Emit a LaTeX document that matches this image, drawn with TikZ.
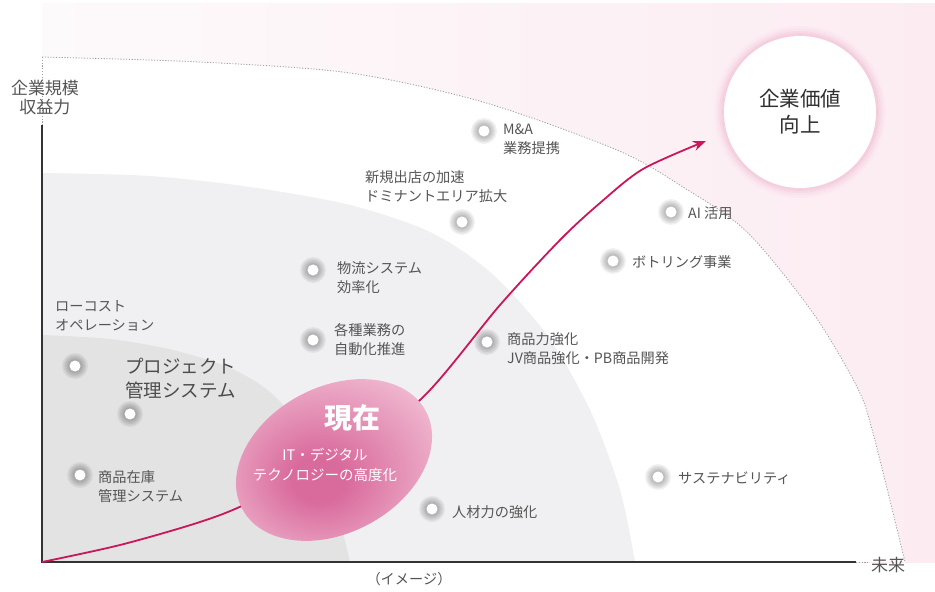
\documentclass[tikz,border=0pt]{standalone}
\usepackage{fontspec}
\setmainfont{Noto Sans CJK JP}
\usetikzlibrary{arrows.meta}
\definecolor{txt}{HTML}{555555}
\definecolor{axis}{HTML}{333333}
\definecolor{crim}{HTML}{C8175A}
\definecolor{pinkL}{HTML}{FDFAFB}
\definecolor{pinkR}{HTML}{FCECF2}
\definecolor{midgray}{HTML}{F0F0F2}
\definecolor{ingray}{HTML}{E3E3E4}
\definecolor{halo}{HTML}{F2B8CE}
\definecolor{pkC}{HTML}{D96A9C}
\definecolor{pkE}{HTML}{F5CADC}
\pgfdeclareradialshading{pinkell}{\pgfpoint{-4bp}{-6bp}}{color(0bp)=(pkC); color(6bp)=(pkC); color(34bp)=(pkE); color(50bp)=(pkE)}
\begin{document}
\begin{tikzpicture}[x=1pt,y=-1pt,
  lbl/.style={text=txt, font=\fontsize{14.2}{19}\selectfont, align=left, anchor=west, inner sep=0pt},
  biglbl/.style={text=txt!90!black, font=\fontsize{18.5}{24.5}\selectfont, align=left, anchor=west, inner sep=0pt},
  axlbl/.style={text=txt, font=\fontsize{17}{19.5}\selectfont, align=center, inner sep=0pt},
  dotnode/.style={circle, fill=white, minimum size=11pt, inner sep=0pt},
  arcline/.style={gray!75, line width=0.8pt, dash pattern=on 1.2pt off 1.6pt},
  axisline/.style={axis, line width=2pt}]
\useasboundingbox (0,0) rectangle (935,592);
% outer pale pink area
\shade[left color=pinkL, right color=pinkR] (42,3) rectangle (935,562);
% white area inside the dotted arc
\fill[white] (42,562) -- plot[smooth] coordinates {(42,57) (200,62) (350,73) (483,102) (617,150) (683,187) (747,232) (813,313) (857,387) (873,433) (905,562)} -- cycle;
% middle gray region
\fill[midgray] (42,562) -- plot[smooth] coordinates {(42,173) (150,176) (250,187) (350,205) (430,232) (490,272) (547,335) (590,410) (620,490) (635,562)} -- cycle;
% inner gray region
\fill[ingray] (42,562) -- plot[smooth] coordinates {(42,335) (110,339) (173,350) (230,368) (270,392) (303,430) (330,485) (350,562)} -- cycle;
% dotted arc
\draw[arcline] plot[smooth] coordinates {(42,57) (200,62) (350,73) (483,102) (617,150) (683,187) (747,232) (813,313) (857,387) (873,433) (905,562)};
% axes
\coordinate (top) at (42,57);
\coordinate (ytip) at (42,125);
\coordinate (o) at (42,562);
\coordinate (xend) at (856,562);
\coordinate (xdot) at (869,562);
\draw[arcline] (top) -- (ytip);
\draw[axisline] (ytip) -- (o) -- (xend);
\draw[arcline] (xend) -- (xdot);
\node[axlbl] (ylab) at (45,97.5) {企業規模\\収益力};
\node[axlbl] (xlab) at (888,565) {未来};
\node[axlbl, font=\fontsize{14.2}{17}\selectfont] (img) at (409,579) {（イメージ）};
% goal circle
\foreach \r/\o in {86/0.08, 83.5/0.13, 81/0.2, 78.8/0.3}{\fill[halo, opacity=\o] (800,112) circle (\r pt);}
\node[circle, fill=white, minimum size=152pt, inner sep=0pt] (goal) at (800,112) {};
\node[text=black!82, font=\fontsize{20.5}{26}\selectfont, align=center, inner sep=0pt] (goaltxt) at (goal) {企業価値\\向上};
% growth curve
\draw[crim, line width=1.8pt, -{Stealth[length=13pt, width=10pt]}] plot[smooth] coordinates {(42,562) (120,545) (200,522) (250,502) (335,455) (420,400) (500,305) (560,240) (600,203) (643,169) (706,141)};
% current ellipse
\shade[shading=pinkell, rotate around={28:(334,460)}] (334,460) ellipse [x radius=104pt, y radius=73pt];
\node[text=white, font=\fontsize{28}{32}\selectfont\bfseries, inner sep=0pt] (now) at (352,418) {現在};
\node[text=white, font=\fontsize{14.5}{20}\selectfont, align=center, inner sep=0pt] (nowtxt) at (325,465) {IT・デジタル\\テクノロジーの高度化};
% bullets
\foreach \n/\x/\y in {ma/484/131, shin/462/222, ai/671/212, bot/613/261, butsu/313/270, kaku/313/340, sho/487/342, low/75/366, proj/130/414, zai/80/475, jin/432/509, sus/658/477}{
  \foreach \r in {13,11.5,10,8.5,7}{\fill[black, opacity=0.055] (\x,\y) circle (\r pt);}
  \node[dotnode] (\n) at (\x,\y) {};
}
% labels
\node[lbl] (lma) at (503,139) {M\&A\\業務提携};
\node[lbl] (lshin) at (365,186.5) {新規出店の加速\\ドミナントエリア拡大};
\node[lbl] (lai) at (688,213) {AI 活用};
\node[lbl] (lbot) at (632,262) {ボトリング事業};
\node[lbl] (lbutsu) at (337,277.5) {物流システム\\効率化};
\node[lbl] (lkaku) at (334,339.5) {各種業務の\\自動化推進};
\node[lbl] (lsho) at (507,349) {商品力強化\\JV商品強化・PB商品開発};
\node[lbl] (llow) at (55,315.5) {ローコスト\\オペレーション};
\node[biglbl] (lproj) at (125,378.5) {プロジェクト\\管理システム};
\node[lbl] (lzai) at (98,486.5) {商品在庫\\管理システム};
\node[lbl] (ljin) at (452,512) {人材力の強化};
\node[lbl] (lsus) at (678,478) {サステナビリティ};
\end{tikzpicture}
\end{document}
